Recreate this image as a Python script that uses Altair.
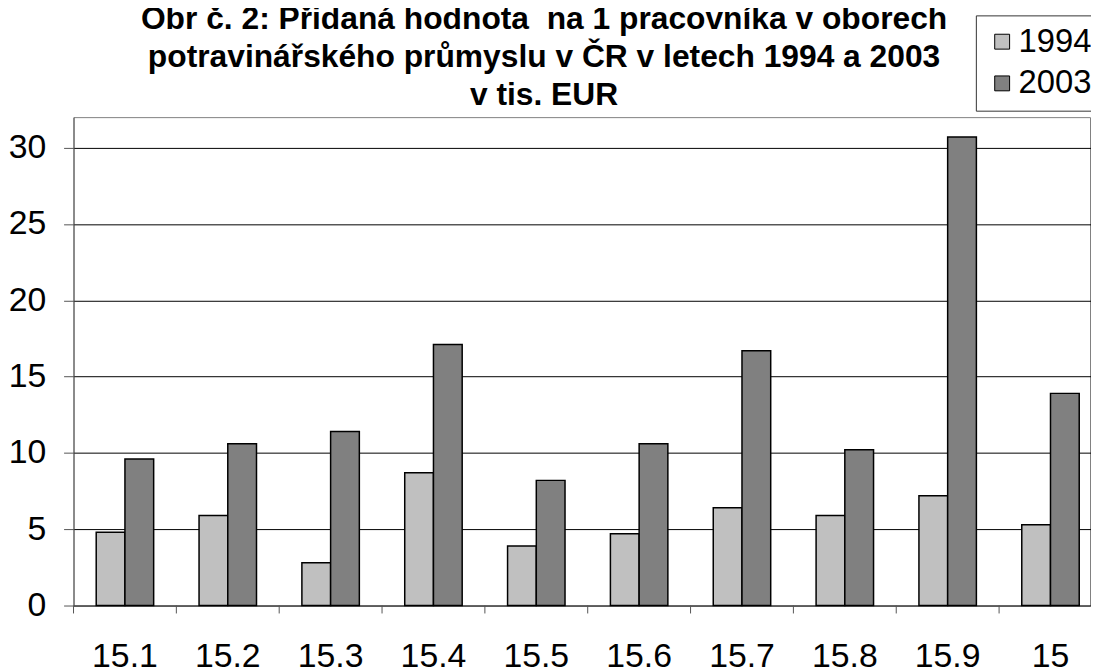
import altair as alt
import pandas as pd

categories = ["15.1", "15.2", "15.3", "15.4", "15.5", "15.6", "15.7", "15.8", "15.9", "15"]
values_1994 = [4.8, 5.9, 2.8, 8.7, 3.9, 4.7, 6.4, 5.9, 7.2, 5.3]
values_2003 = [9.6, 10.6, 11.4, 17.1, 8.2, 10.6, 16.7, 10.2, 30.7, 13.9]
years = ["1994", "2003"]
y_ticks = [0, 5, 10, 15, 20, 25, 30]
title_lines = [
    "Obr č. 2: Přidaná hodnota\u00a0 na 1 pracovníka v oborech",
    "potravinářského průmyslu v ČR v letech 1994 a 2003",
    "v tis. EUR",
]

FONT = "Liberation Sans"

rows = []
for c, a, b in zip(categories, values_1994, values_2003):
    rows.append({"cat": c, "year": years[0], "value": a})
    rows.append({"cat": c, "year": years[1], "value": b})
df = pd.DataFrame(rows)
cat_df = pd.DataFrame({"cat": categories})

x_scale = alt.Scale(range=[0, 1036], paddingInner=0, paddingOuter=0)
x_axis = alt.Axis(
    title=None,
    labelAngle=0,
    ticks=False,
    domain=False,
    labelFontSize=34,
    labelFont=FONT,
    labelColor="black",
    labelPadding=51,
    labelBaseline="middle",
)

bars = alt.Chart(df).mark_bar(stroke="black", strokeWidth=1.5).encode(
    x=alt.X("cat:N", sort=categories, scale=x_scale, axis=x_axis),
    xOffset=alt.XOffset(
        "year:N", sort=years, scale=alt.Scale(paddingInner=0, paddingOuter=0.79)
    ),
    y=alt.Y(
        "value:Q",
        scale=alt.Scale(domain=[0, 32], nice=False),
        axis=alt.Axis(
            title=None,
            values=y_ticks,
            grid=True,
            gridColor="black",
            gridWidth=1,
            tickSize=10,
            tickColor="#555555",
            domainColor="#555555",
            labelPadding=18,
            labelFontSize=34,
            labelFont=FONT,
            labelColor="black",
        ),
    ),
    color=alt.Color(
        "year:N",
        sort=years,
        scale=alt.Scale(domain=years, range=["#C0C0C0", "#808080"]),
        legend=alt.Legend(
            title=None,
            orient="none",
            legendX=909,
            legendY=-102.5,
            labelFontSize=33,
            labelFont=FONT,
            labelColor="black",
            symbolType="square",
            symbolSize=225,
            symbolStrokeColor="black",
            symbolStrokeWidth=1,
            symbolOpacity=1,
            strokeColor="#333333",
            fillColor="white",
            padding=10,
            rowPadding=8,
            labelOffset=0,
        ),
    ),
)

ticks = alt.Chart(cat_df).mark_rule(color="#555555", strokeWidth=1).encode(
    x=alt.X("cat:N", sort=categories, scale=x_scale, axis=x_axis, bandPosition=0),
    y=alt.value(492),
    y2=alt.value(500),
)

chart = (
    alt.layer(bars, ticks)
    .properties(
        width=1024,
        height=492,
        autosize=alt.AutoSizeParams(type="none"),
        padding={"left": 66, "top": 107.5, "right": 1, "bottom": 61},
        title=alt.TitleParams(
            text=title_lines,
            fontSize=32,
            fontWeight="bold",
            font=FONT,
            color="black",
            anchor="middle",
            frame="group",
            dx=-38,
            offset=-123,
            baseline="alphabetic",
            lineHeight=38.5,
        ),
    )
    .configure_view(stroke="#808080", strokeWidth=1)
)

chart.save("out.html", embed_options={"renderer": "svg", "actions": False})
